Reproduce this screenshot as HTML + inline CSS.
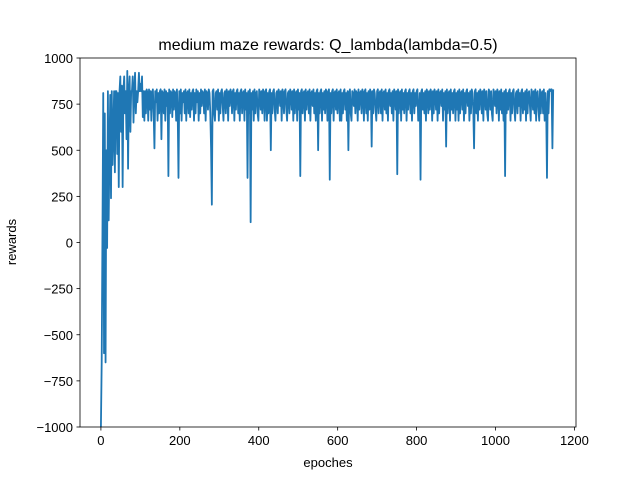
<!DOCTYPE html>
<html><head><meta charset="utf-8"><style>
body{margin:0;background:#fff;}
svg text{font-family:"Liberation Sans","DejaVu Sans",sans-serif;}
</style></head><body>
<svg id="chart" width="640" height="480" viewBox="0 0 640 480" xmlns="http://www.w3.org/2000/svg">
<rect width="640" height="480" fill="#fff"/>
<text x="328" y="50" font-size="16" text-anchor="middle">medium maze rewards: Q_lambda(lambda=0.5)</text>
<g id="plot"></g>
<rect x="80" y="58" width="496" height="369" fill="none" stroke="#000" stroke-width="0.8"/>
<text x="328" y="467" font-size="13" text-anchor="middle">epoches</text>
<text x="0" y="0" font-size="13" text-anchor="middle" transform="translate(16,242) rotate(-90)">rewards</text>
</svg>
<script>
const xTicks=[0,200,400,600,800,1000,1200];
const yTicks=[1000,750,500,250,0,-250,-500,-750,-1000];
const epochStep=1.966;
const rewards=[
-1000,-650,50,810,-600,700,-650,500,-30,820,120,480,800,240,820,420,600,820,380,820,
820,480,810,300,820,900,600,850,300,820,900,700,820,560,930,400,820,900,600,820,
820,900,650,820,920,700,820,760,820,920,820,860,820,900,680,820,660,820,700,830,
810,660,830,720,820,660,810,830,700,510,820,760,830,660,810,700,820,830,560,820,
810,700,830,660,820,740,810,360,830,700,820,810,680,830,720,820,810,660,830,700,
350,820,700,830,660,810,760,820,700,830,660,810,820,700,830,680,810,720,820,830,
660,810,700,830,760,820,660,810,700,830,740,820,810,700,830,660,820,810,720,830,
810,700,510,205,820,830,700,660,810,820,720,830,660,810,700,820,830,740,660,810,
820,700,830,810,660,820,740,830,810,700,820,830,660,810,720,820,830,700,810,660,
820,830,700,810,820,660,830,720,810,350,820,700,830,110,810,720,820,660,830,700,
810,820,700,660,830,810,720,820,700,830,810,660,820,830,660,810,700,820,830,500,
810,700,820,830,720,660,810,820,700,830,810,740,820,660,830,810,700,820,830,720,
660,810,820,700,830,810,720,820,660,830,700,810,820,660,830,720,810,360,820,830,
700,810,820,660,830,720,810,820,700,830,660,810,820,740,830,700,810,660,820,830,
500,810,700,820,830,660,810,720,820,700,830,810,660,820,830,340,810,700,820,830,
660,810,820,720,830,700,810,820,660,830,660,810,700,820,830,720,810,660,820,500,
810,830,700,660,820,810,740,830,700,820,810,660,830,720,810,820,700,830,810,660,
820,830,700,810,660,820,720,830,810,520,820,700,830,810,720,660,820,830,700,810,
820,700,830,660,810,820,720,830,700,810,660,820,830,740,810,700,820,660,830,810,
720,820,370,830,700,810,820,660,830,720,810,700,820,830,660,810,720,820,830,700,
810,660,820,830,700,810,740,820,830,660,700,810,340,820,830,720,810,700,820,660,
830,810,700,820,720,830,810,660,820,700,830,810,720,820,660,830,700,810,820,740,
830,660,810,720,820,520,830,700,810,820,660,830,720,810,700,820,830,660,810,720,
820,660,830,700,810,820,720,830,660,810,700,820,830,740,810,660,820,700,830,810,
720,510,820,830,700,810,660,820,720,830,810,700,820,660,830,810,720,820,700,660,
830,810,720,820,700,660,830,810,740,820,700,830,810,660,820,720,830,700,810,660,
820,360,830,700,810,720,820,830,660,810,700,820,830,720,660,810,820,700,830,740,
810,660,820,830,700,810,720,820,660,830,700,810,820,740,660,830,810,720,820,700,
830,660,810,820,720,660,830,700,810,820,700,830,660,810,720,350,820,700,830,830,
820,830,510,830
];
const X0=80,X1=576,Y0=58,Y1=427,XMIN=-53,XMAX=1204,YMIN=-1000,YMAX=1000;
const xs=v=>X0+(v-XMIN)/(XMAX-XMIN)*(X1-X0);
const ys=v=>Y1-(v-YMIN)/(YMAX-YMIN)*(Y1-Y0);
const NS="http://www.w3.org/2000/svg";
const plot=document.getElementById('plot');
const svg=document.getElementById('chart');
xTicks.forEach(t=>{
  const l=document.createElementNS(NS,'line');
  
  
  l.setAttribute('x1',xs(t));l.setAttribute('x2',xs(t));l.setAttribute('y1',427);l.setAttribute('y2',430.5);l.setAttribute('stroke','#000');l.setAttribute('stroke-width','0.8');
  svg.appendChild(l);
  const tx=document.createElementNS(NS,'text');
  
  
  tx.setAttribute('x',xs(t));tx.setAttribute('y',445);tx.setAttribute('font-size','13');tx.setAttribute('text-anchor','middle');
  tx.textContent=t;svg.appendChild(tx);
});
yTicks.forEach(t=>{
  const l=document.createElementNS(NS,'line');
  
  
  l.setAttribute('x1',76.5);l.setAttribute('x2',80);l.setAttribute('y1',ys(t));l.setAttribute('y2',ys(t));l.setAttribute('stroke','#000');l.setAttribute('stroke-width','0.8');
  svg.appendChild(l);
  const tx=document.createElementNS(NS,'text');
  
  
  tx.setAttribute('x',73);tx.setAttribute('y',ys(t)+5);tx.setAttribute('font-size','13');tx.setAttribute('text-anchor','end');
  tx.textContent=t<0?'\u2212'+(-t):t;svg.appendChild(tx);
});
const pts=rewards.map((v,i)=>xs(i*epochStep).toFixed(2)+','+ys(v).toFixed(2)).join(' ');
const pl=document.createElementNS(NS,'polyline');


pl.setAttribute('points',pts);pl.setAttribute('fill','none');pl.setAttribute('stroke','#1f77b4');pl.setAttribute('stroke-width','1.8');pl.setAttribute('stroke-linejoin','round');
plot.appendChild(pl);
</script>
</body></html>
